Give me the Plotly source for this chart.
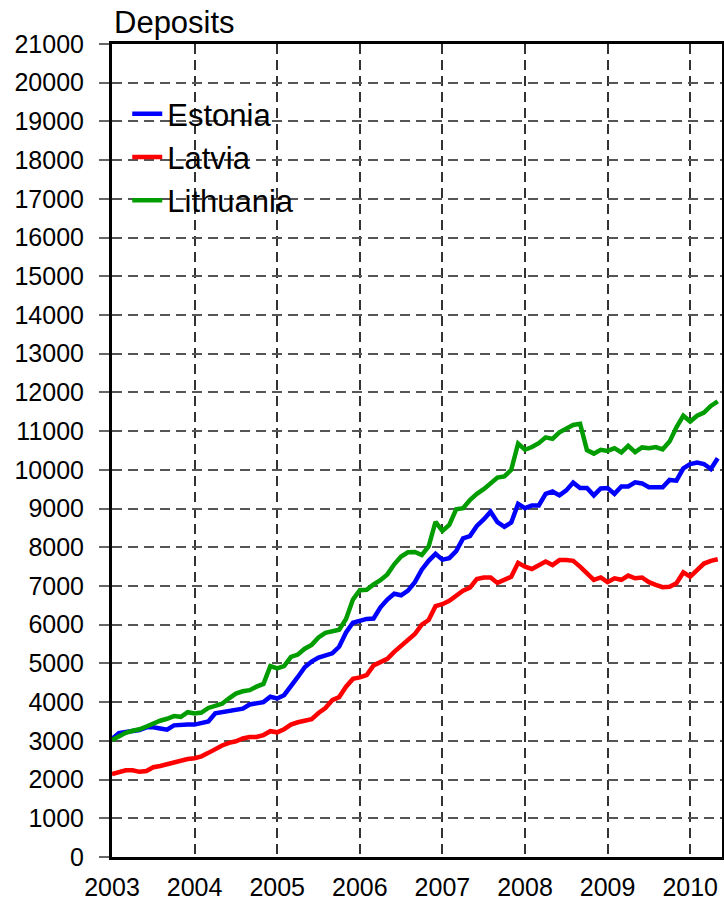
import plotly.graph_objects as go

# Monthly deposits, Jan 2003 .. May 2010
start_year = 2003
estonia = [3050, 3200, 3230, 3250, 3280, 3350, 3350, 3320, 3290, 3400, 3420, 3420,
           3420, 3450, 3500, 3710, 3740, 3780, 3800, 3830, 3940, 3960, 4000, 4140,
           4095, 4180, 4400, 4650, 4900, 5050, 5150, 5210, 5260, 5430, 5800, 6050,
           6110, 6150, 6160, 6450, 6650, 6800, 6760, 6880, 7100, 7420, 7650, 7830,
           7680, 7720, 7900, 8230, 8290, 8550, 8720, 8920, 8650, 8530, 8640, 9120,
           9010, 9080, 9080, 9380, 9440, 9340, 9470, 9670, 9530, 9530, 9340, 9520,
           9530, 9380, 9570, 9570, 9680, 9650, 9550, 9540, 9550, 9740, 9720, 10040,
           10150, 10190, 10150, 10020, 10300]
latvia = [2140, 2190, 2240, 2240, 2200, 2220, 2320, 2350, 2400, 2450, 2490, 2530,
          2550, 2600, 2690, 2800, 2880, 2950, 2990, 3060, 3100, 3100, 3150, 3250,
          3220, 3300, 3420, 3480, 3520, 3560, 3720, 3850, 4050, 4130, 4400, 4600,
          4640, 4700, 4950, 5050, 5120, 5300, 5450, 5620, 5760, 6000, 6120, 6480,
          6530, 6620, 6760, 6880, 6960, 7180, 7220, 7220, 7080, 7170, 7240, 7600,
          7500, 7440, 7530, 7630, 7540, 7670, 7670, 7650, 7500, 7330, 7160, 7220,
          7100, 7200, 7160, 7270, 7200, 7220, 7100, 7030, 6970, 6980, 7070, 7350,
          7240, 7410, 7580, 7650, 7690]
lithuania = [3020, 3120, 3210, 3260, 3300, 3370, 3450, 3520, 3570, 3640, 3620, 3740,
             3710, 3730, 3850, 3910, 3960, 4100, 4220, 4280, 4310, 4400, 4470, 4930,
             4870, 4930, 5170, 5230, 5380, 5480, 5670, 5790, 5830, 5870, 6150, 6650,
             6890, 6900, 7040, 7150, 7300, 7560, 7760, 7870, 7880, 7800, 8020, 8660,
             8420, 8580, 8980, 9010, 9220, 9380, 9500, 9650, 9800, 9830, 10000, 10680,
             10520, 10590, 10690, 10840, 10800, 10970, 11080, 11160, 11190, 10510, 10420, 10520,
             10490, 10560, 10450, 10620, 10460, 10580, 10560, 10590, 10530, 10730, 11100, 11400,
             11250, 11400, 11480, 11650, 11770]
year_ticks = [2003, 2004, 2005, 2006, 2007, 2008, 2009, 2010]
series_names = ["Estonia", "Latvia", "Lithuania"]
series_colors = ["#0000FF", "#FF0000", "#009C00"]

months = [start_year + i / 12 for i in range(len(estonia))]

fig = go.Figure()
for name, vals, col in zip(series_names, [estonia, latvia, lithuania], series_colors):
    fig.add_trace(go.Scatter(x=months, y=vals, mode="lines", name=name,
                             legendgroup=name,
                             line=dict(color=col, width=4.5)))

FONT = "Arial, Liberation Sans, sans-serif"
fig.update_layout(
    width=724, height=901,
    margin=dict(l=112, r=2, t=44, b=44, autoexpand=False),
    paper_bgcolor="white", plot_bgcolor="white",
    font=dict(family=FONT, color="black"),
    showlegend=True,
    legend=dict(x=0.025, y=0.947, xanchor="left", yanchor="top",
                bgcolor="rgba(0,0,0,0)", borderwidth=0,
                font=dict(size=31, family=FONT, color="black"),
                tracegroupgap=10, traceorder="normal"),
    annotations=[dict(text="Deposits", xref="paper", yref="paper", x=0, y=1,
                      xanchor="left", yanchor="bottom", yshift=2, showarrow=False,
                      font=dict(size=31, family=FONT, color="black"))],
)
fig.update_xaxes(
    range=[2003, 2010.385], tickvals=year_ticks, ticktext=[str(y) for y in year_ticks],
    showgrid=True, gridcolor="#333333", gridwidth=1.5, griddash="10px,6px",
    showline=True, linecolor="black", linewidth=3, mirror=True,
    ticks="", ticklabelstandoff=6,
    tickfont=dict(size=25, family=FONT, color="black"),
    zeroline=False, automargin=False,
)
fig.update_yaxes(
    range=[0, 21000], tickvals=list(range(0, 21001, 1000)),
    ticktext=[str(v) for v in range(0, 21001, 1000)],
    showgrid=True, gridcolor="#555555", gridwidth=1.5, griddash="10px,6px",
    showline=True, linecolor="black", linewidth=3, mirror=True,
    ticks="outside", ticklen=10, tickwidth=1.5, tickcolor="#666666",
    ticklabelstandoff=10,
    tickfont=dict(size=25, family=FONT, color="black"),
    zeroline=False, automargin=False,
)
fig.write_html("out.html", config={"displayModeBar": False},
               post_script="document.body.style.margin='0';document.body.style.overflow='hidden';")
